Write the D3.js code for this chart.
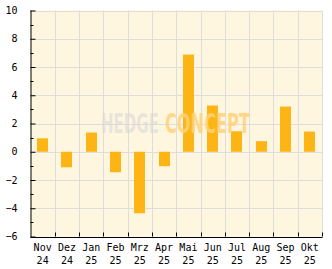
<!DOCTYPE html>
<html><head><meta charset="utf-8">
<script src="https://cdn.jsdelivr.net/npm/d3@7"></script>
<style>body{margin:0;background:#fff}svg{display:block}</style>
</head><body>
<svg id="c" width="332" height="269"></svg>
<script>
const months = ["Nov","Dez","Jan","Feb","Mrz","Apr","Mai","Jun","Jul","Aug","Sep","Okt"];
const years  = ["24","24","25","25","25","25","25","25","25","25","25","25"];
const values = [0.95,-1.1,1.36,-1.45,-4.35,-1.02,6.88,3.27,1.45,0.75,3.2,1.43];
const yTicks = [-6,-4,-2,0,2,4,6,8,10];
const yMinor = [-5,-3,-1,1,3,5,7,9];

const svg = d3.select("#c");
const L = 30.5, R = 322, T = 10.5, B = 236.5;
const x = d3.scaleBand().domain(d3.range(months.length)).range([L, R]);
const y = d3.scaleLinear().domain([-6, 10]).range([B, T]);
const font = "DejaVu Sans Mono";

svg.append("rect").attr("x", L).attr("y", T).attr("width", R - L).attr("height", B - T).attr("fill", "#FEF6DE");

// grid
svg.append("g").selectAll("line").data(yTicks).join("line")
  .attr("x1", L).attr("x2", R).attr("y1", d => Math.round(y(d)) + 0.5).attr("y2", d => Math.round(y(d)) + 0.5)
  .attr("stroke", "#DDDDDD").attr("stroke-width", 1);
svg.append("g").selectAll("line").data(d3.range(1, months.length + 1)).join("line")
  .attr("x1", i => Math.round(L + i * x.step()) + 0.5).attr("x2", i => Math.round(L + i * x.step()) + 0.5)
  .attr("y1", T).attr("y2", B).attr("stroke", "#DDDDDD").attr("stroke-width", 1);

// bars
const bw = 11;
svg.append("g").selectAll("rect").data(values).join("rect")
  .attr("x", (d, i) => Math.round(x(i) + x.bandwidth() / 2 - bw / 2))
  .attr("width", bw)
  .attr("y", d => y(Math.max(0, d)))
  .attr("height", d => Math.abs(y(d) - y(0)))
  .attr("fill", "#FDB515");

// watermark (scaled horizontally to fit its box)
const wm = svg.append("g");
function mark(txt, x0, w, fill, op) {
  const g = wm.append("g");
  const t = g.append("text").attr("x", 0).attr("y", 0)
    .attr("font-family", "DejaVu Sans Condensed, DejaVu Sans").attr("font-weight", "bold")
    .attr("font-size", 26).attr("fill", fill).attr("fill-opacity", op).text(txt);
  const nat = t.node().getComputedTextLength();
  g.attr("transform", `translate(${x0},133) scale(${w / nat},1)`);
}
mark("HEDGE", 101, 58, "#D9D9D9", 0.6);
mark("CONCEPT", 165, 85, "#FFD27A", 0.85);

// left axis
const ay = svg.append("g").attr("transform", `translate(${L},0)`)
  .call(d3.axisLeft(y).tickValues(yTicks).tickSize(-5).tickPadding(13).tickFormat(d => d === 0 ? "0" : d3.format("d")(d).replace("-", "\u2212")));
ay.select(".domain").remove();
ay.selectAll("text").attr("font-family", font).attr("font-size", 10).attr("fill", "#000");
ay.selectAll("line").attr("stroke", "#000");
svg.append("g").selectAll("line").data(yMinor).join("line")
  .attr("x1", L).attr("x2", L + 3).attr("y1", d => Math.round(y(d)) + 0.5).attr("y2", d => Math.round(y(d)) + 0.5)
  .attr("stroke", "#000");
svg.append("line").attr("x1", L + 0.5).attr("x2", L + 0.5).attr("y1", T).attr("y2", B + 0.5).attr("stroke", "#000");

// bottom axis
svg.append("line").attr("x1", L).attr("x2", R + 0.5).attr("y1", Math.round(B) + 0.5).attr("y2", Math.round(B) + 0.5).attr("stroke", "#000");
svg.append("g").selectAll("line").data(d3.range(1, months.length + 1)).join("line")
  .attr("x1", i => Math.round(L + i * x.step()) + 0.5).attr("x2", i => Math.round(L + i * x.step()) + 0.5)
  .attr("y1", B - 4).attr("y2", B).attr("stroke", "#000");
const lab = svg.append("g").selectAll("text").data(months).join("text")
  .attr("x", (d, i) => x(i) + x.bandwidth() / 2).attr("y", 251)
  .attr("text-anchor", "middle").attr("font-family", font).attr("font-size", 10).attr("fill", "#000");
lab.append("tspan").text(d => d);
lab.append("tspan").attr("x", (d, i) => x(i) + x.bandwidth() / 2).attr("dy", 12.5).text((d, i) => years[i]);
</script>
</body></html>
